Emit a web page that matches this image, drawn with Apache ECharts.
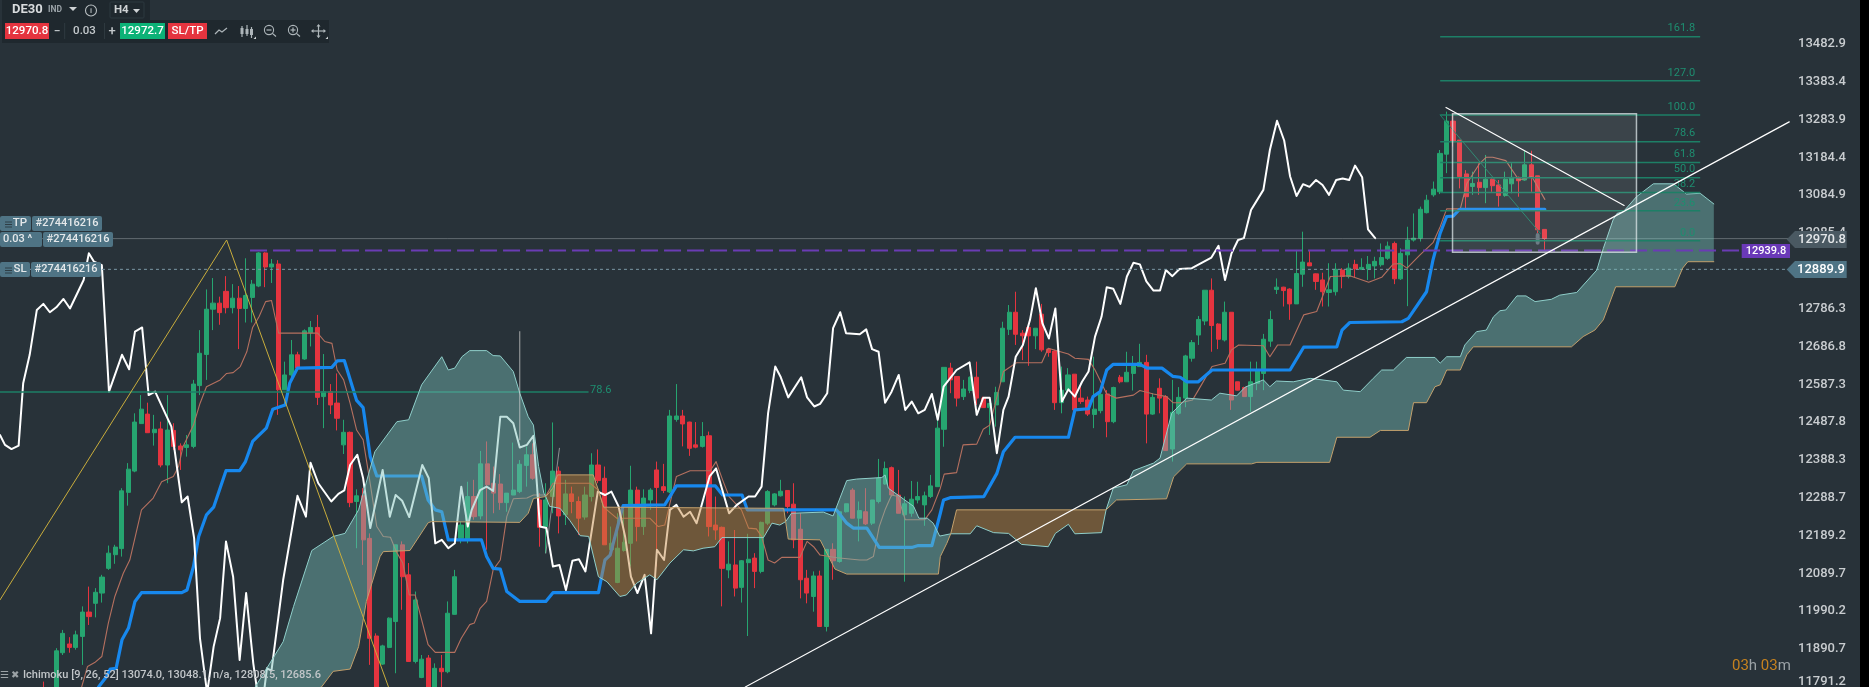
<!DOCTYPE html>
<html><head><meta charset="utf-8"><title>DE30 H4</title>
<style>html,body{margin:0;padding:0;background:#283239;overflow:hidden}#c{width:1869px;height:687px}</style>
<script src="https://cdn.jsdelivr.net/npm/echarts@6/dist/echarts.min.js"></script></head>
<body><div id="c"></div>
<script>
const firstBar = 6;
const opens = [11785,11770,11770,11881,11904,11895,11924,11988,12011,12038,
12103,12139,12155,12303,12359,12484,12509,12460,12470,12375,
12466,12425,12421,12424,12584,12666,12785,12801,12832,12789,
12814,12787,12816,12846,12933,12896,12904,12573,12612,12665,
12654,12723,12737,12555,12568,12538,12428,12461,12279,12294,
12182,11925,11851,11895,11963,12165,12086,11858,11816,11867,
11780,11840,11831,11982,12182,12178,12292,12241,12378,12327,
12325,12276,12296,12305,12374,12402,12283,12213,12292,12359,
12244,12299,12279,12238,12292,12375,12340,12152,12066,12150,
12169,12309,12213,12283,12362,12318,12304,12495,12504,12488,
12428,12424,12452,12217,12211,12099,12112,12053,12118,12130,
12095,12222,12270,12294,12308,12272,12206,12077,12029,12083,
11950,12153,12121,12252,12309,12235,12252,12222,12279,12325,
12368,12296,12244,12248,12283,12270,12292,12318,
12469,12630,12608,12555,12571,12606,12551,12526,12533,12594,
12732,12777,12722,12737,12715,12772,12680,12675,12539,12572,
12614,12551,12546,12508,12518,12562,12489,12606,12594,12616,
12634,12645,12509,12577,12555,12417,12511,12551,12656,12717,
12754,12835,12746,12704,12777,12594,12579,12555,12590,12616,
12701,12837,12843,12838,12799,12877,12907,12878,12862,12829,
12831,12888,12871,12903,12890,12891,12899,12902,12919,12958,
12865,12928,12967,12972,13039,13086,13094,13193,13280,13230,
13141,13108,13119,13105,13127,13112,13084,13115,13132,13125,
13165,13136,12995];
const closes = [11770,11760,11886,11932,11895,11928,11988,11976,12040,12080,
12143,12159,12307,12364,12488,12522,12460,12469,12375,12467,
12424,12415,12428,12588,12669,12785,12801,12776,12789,12814,
12787,12821,12851,12933,12896,12904,12573,12612,12665,12630,
12728,12737,12553,12568,12533,12498,12461,12276,12294,12178,
11919,11770,11899,11972,12165,12081,11858,12020,11864,11780,
11840,11831,11985,12081,12217,12292,12239,12378,12323,12301,
12276,12301,12309,12377,12402,12340,12211,12283,12359,12241,
12299,12279,12235,12296,12375,12334,12165,12169,12156,12172,
12309,12213,12288,12309,12316,12308,12504,12504,12483,12419,
12422,12450,12213,12204,12103,12114,12051,12123,12127,12095,
12224,12305,12299,12306,12266,12178,12073,12038,12083,11950,
12153,12123,12252,12273,12235,12255,12220,12283,12340,12366,
12296,12248,12273,12285,12292,12294,12320,12472,
12632,12599,12551,12575,12606,12551,12526,12537,12566,12735,
12777,12719,12715,12715,12735,12678,12671,12539,12572,12612,
12520,12542,12509,12522,12561,12489,12579,12594,12619,12636,
12645,12509,12553,12551,12413,12514,12553,12662,12697,12758,
12835,12742,12706,12777,12546,12572,12555,12594,12623,12706,
12758,12843,12834,12799,12879,12909,12899,12858,12831,12836,
12890,12871,12893,12891,12895,12903,12911,12921,12951,12865,
12932,12967,12972,13048,13072,13101,13195,13280,13226,13134,
13081,13116,13105,13127,13110,13084,13127,13132,13123,13165,
13132,12994,12971];
const lows = [11760,11750,11760,11875,11881,11889,11849,11954,11974,12013,
12099,12115,12134,12268,12356,12484,12460,12426,12369,12327,
12415,12362,12397,12419,12559,12599,12730,12744,12774,12774,
12680,12750,12750,12843,12843,12854,12507,12573,12603,12625,
12652,12687,12533,12472,12509,12466,12404,12264,12156,12112,
11849,11760,11849,11893,11827,11994,11858,11853,11814,11770,
11770,11780,11827,11981,12169,12169,12231,12232,12152,12248,
12257,12252,12296,12301,12318,12336,12160,12143,12248,12195,
12217,12248,12191,12231,12279,12327,12165,12143,12064,12147,
12108,12174,12191,12257,12108,12301,12301,12489,12424,12399,
12419,12421,12187,12178,12003,12077,12029,12013,11925,12051,
12090,12217,12266,12292,12248,12156,12024,12011,11989,11950,
11937,12073,12118,12250,12235,12174,12217,12217,12274,12323,
12292,12248,12068,12239,12274,12215,12288,12318,
12423,12564,12529,12546,12564,12533,12526,12454,12476,12594,
12717,12691,12651,12636,12680,12673,12660,12520,12511,12572,
12515,12536,12504,12472,12511,12448,12485,12590,12594,12571,
12634,12432,12507,12511,12413,12384,12507,12527,12647,12691,
12743,12673,12680,12700,12520,12571,12555,12515,12572,12572,
12686,12825,12792,12757,12799,12844,12899,12836,12792,12792,
12821,12840,12866,12869,12888,12862,12866,12897,12915,12851,
12862,12793,12963,12963,13037,13081,13088,13143,13213,13103,
13051,13086,13086,13064,13094,13055,13081,13090,13081,13123,
13094,12985,12941];
const highs = [11805,11785,11893,11941,11922,11939,12003,12055,12051,12086,
12163,12165,12314,12380,12511,12559,12539,12507,12489,12559,
12485,12432,12454,12599,12730,12837,12867,12818,12872,12851,
12846,12919,12862,12935,12935,12917,12914,12647,12704,12673,
12732,12754,12770,12667,12588,12616,12494,12463,12311,12314,
12195,11932,11902,11974,12165,12174,12117,12042,11875,11875,
11853,11875,12016,12099,12226,12331,12336,12412,12437,12371,
12351,12301,12434,12388,12424,12432,12301,12327,12487,12371,
12336,12318,12292,12318,12406,12416,12371,12213,12248,12257,
12373,12318,12311,12314,12384,12378,12520,12588,12520,12489,
12488,12488,12463,12292,12213,12174,12204,12125,12194,12143,
12226,12309,12301,12336,12309,12327,12248,12099,12095,12097,
12153,12169,12252,12273,12314,12279,12314,12283,12391,12384,
12371,12362,12292,12333,12331,12305,12349,12511,
12632,12644,12608,12599,12608,12647,12555,12537,12581,12752,
12796,12831,12730,12739,12735,12799,12682,12678,12634,12630,
12614,12590,12555,12660,12572,12572,12581,12612,12673,12662,
12694,12665,12564,12603,12559,12599,12580,12665,12704,12767,
12835,12866,12748,12805,12777,12594,12581,12647,12647,12720,
12781,12866,12844,12840,12941,12989,12941,12879,12881,12906,
12906,12893,12906,12915,12919,12925,12923,12958,12963,12963,
12945,13002,13037,13055,13086,13121,13204,13305,13300,13230,
13151,13147,13169,13191,13129,13125,13147,13169,13134,13202,
13202,13136,12995];

const kijun = [[14.5,11791],[15.7,11818],[16.3,11838],[17.2,11840],[18.1,11915],[19.1,11946],[20.1,12016],[21.1,12039],[27.3,12039],[28.1,12046],[29.1,12108],[29.9,12187],[31.1,12244],[32.2,12264],[34.1,12360],[36.2,12360],[37.1,12384],[38.2,12437],[40.3,12472],[41.3,12522],[43.2,12533],[43.9,12590],[45.1,12630],[50.4,12632],[51.2,12649],[52.3,12650],[54.2,12545],[55.2,12526],[56.3,12397],[57.3,12346],[64.2,12346],[65.2,12283],[66.3,12257],[67.3,12252],[68.3,12178],[73.4,12178],[74.2,12134],[75.2,12103],[76.3,12101],[77.3,12042],[79.3,12016],[83.3,12016],[84.4,12039],[91.4,12039],[92.4,12125],[93.2,12138],[95.2,12268],[101.6,12270],[103.4,12320],[109.4,12320],[110.5,12296],[113.5,12296],[114.3,12257],[128,12257],[129.6,12222],[130.6,12209],[132.7,12209],[134.6,12158],[139.6,12158],[140.6,12163],[142.7,12163],[144,12248],[144.5,12283],[145.5,12289],[150.7,12292],[152.7,12353],[153.7,12410],[155.5,12448],[163.7,12448],[164.7,12520],[166.8,12523],[167.5,12555],[168.6,12568],[169.6,12625],[170.6,12640],[174.7,12640],[175.8,12630],[178.1,12630],[179.8,12608],[180.9,12606],[181.9,12594],[183.7,12594],[185.8,12625],[197.8,12625],[199.9,12685],[205,12686],[205.8,12730],[207,12750],[215,12752],[216,12761],[218.8,12831],[219.8,12915],[220.9,12985],[221.9,13029],[222.9,13030],[223.9,13048],[237,13048.1]];
const tenkan = [[11.9,11791],[12.8,11845],[13.9,11855],[15,11871],[16,11959],[17,12029],[18.3,12090],[19.3,12125],[21.1,12257],[22.9,12288],[24.2,12331],[26,12345],[26.8,12371],[27.5,12424],[29.1,12480],[30.1,12537],[31.1,12581],[33.2,12599],[34.2,12616],[35.2,12618],[36.3,12634],[37.3,12673],[38.2,12737],[39.2,12766],[40.2,12805],[41.1,12808],[42.2,12722],[48.2,12722],[49.3,12700],[50.4,12695],[51.2,12625],[52.2,12599],[53.2,12537],[54.2,12467],[55.2,12441],[56.2,12336],[57.3,12213],[58.3,12187],[59.4,12185],[60.3,12147],[61.3,12117],[62.3,12033],[63.2,12033],[65.2,11902],[66.3,11882],[69.3,11882],[70.3,11919],[71.6,11955],[72.3,11959],[73.2,11998],[74.2,12016],[75.2,12099],[76.3,12125],[77.3,12239],[78.3,12286],[80.4,12288],[81.4,12296],[83.4,12296],[84.4,12327],[90.1,12327],[91.4,12309],[92.2,12264],[94.2,12235],[99.3,12235],[100.6,12213],[101.6,12217],[103.4,12345],[105.5,12360],[108.6,12360],[109.5,12384],[110.5,12336],[111.5,12292],[113.4,12257],[114.5,12209],[115.7,12207],[116.5,12187],[117.5,12125],[118.5,12117],[119.6,12132],[122.4,12132],[123.5,12174],[124.5,12160],[125.5,12138],[128.1,12131],[131.6,12125],[132.7,12125],[133.7,12134],[134.6,12213],[135.5,12257],[136.5,12296],[137.5,12292],[138.6,12231],[141.6,12231],[142.7,12257],[144,12314],[144.6,12351],[146.5,12355],[147.5,12428],[149.6,12430],[150.6,12469],[151.6,12480],[153.7,12621],[155.7,12644],[159.6,12644],[160.6,12682],[163.7,12667],[164.7,12656],[166.8,12653],[167.8,12625],[169.6,12562],[171.1,12551],[173.7,12559],[174.7,12571],[176.8,12562],[178.8,12555],[179.8,12539],[180.9,12539],[182.8,12546],[183.7,12572],[185.8,12634],[187.8,12643],[188.8,12678],[189.9,12691],[193.7,12689],[194.7,12660],[195.9,12691],[197.8,12691],[199.9,12770],[201.9,12779],[204,12871],[207,12873],[209.9,12856],[211.9,12869],[213.7,12904],[214.8,12905],[215.8,12893],[217.8,12928],[219.8,12960],[220.9,13002],[221.9,13049],[224,13049],[225,13116],[227,13169],[228,13185],[229,13185],[231,13176],[233,13125],[235,13134],[237,13074]];
const chikou = [[-0.67,12454],[0.1,12428],[1.1,12417],[2.2,12426],[2.9,12590],[3.9,12665],[5,12783],[6,12799],[7,12777],[8,12790],[9.1,12812],[10.1,12787],[12.2,12862],[13,12932],[13.8,12910],[15,12901],[16.1,12568],[18.1,12665],[19.2,12627],[20.1,12726],[21.2,12737],[22.2,12559],[23.2,12568],[25.7,12476],[27.3,12277],[28.2,12292],[29.2,12182],[30.1,11919],[31.2,11775],[32.2,11897],[33.2,11972],[34.1,12174],[35.2,12081],[36.2,11862],[37.2,12038],[38.3,11853],[39.1,11757],[39.8,11757],[40.4,11840],[41.1,11834],[42.9,12073],[44.4,12222],[45.1,12294],[46.4,12239],[47.1,12381],[48.3,12327],[50.3,12279],[51.4,12299],[52.3,12308],[53.2,12375],[54.3,12402],[55.2,12340],[56.3,12209],[58.2,12362],[59.3,12239],[60.2,12296],[61.2,12281],[62.3,12238],[64.3,12375],[65.3,12340],[66.3,12169],[67.3,12178],[68.3,12156],[69.3,12169],[70.3,12318],[71.3,12213],[71.9,12257],[73.2,12309],[74.2,12318],[75.2,12307],[76.3,12502],[77.3,12502],[78.3,12485],[79.3,12421],[80.4,12428],[81.4,12452],[82.4,12213],[83.4,12209],[84.4,12108],[85.4,12112],[86.4,12046],[87.4,12123],[88.4,12127],[89.4,12095],[91.3,12305],[92.4,12296],[93.4,12305],[94.5,12266],[95.5,12187],[96.4,12081],[97.4,12038],[98.5,12086],[99.5,11932],[100.4,12152],[101.5,12125],[102.4,12257],[103.4,12270],[104.5,12239],[105.5,12252],[106.5,12222],[108.5,12345],[109.5,12366],[111.5,12248],[112.7,12270],[114.5,12292],[115.5,12292],[116.5,12318],[117.5,12511],[118.6,12634],[119.4,12608],[120.6,12553],[122.6,12606],[123.5,12553],[124.6,12529],[125.5,12536],[126.6,12564],[127.5,12735],[128.6,12777],[129.5,12722],[131.6,12719],[132.6,12732],[133.5,12680],[134.5,12673],[135.5,12539],[136.5,12568],[137.6,12612],[138.6,12520],[139.6,12542],[140.6,12511],[141.6,12520],[142.7,12562],[143.6,12494],[144.5,12581],[146.5,12625],[148.5,12645],[149.6,12507],[150.6,12552],[151.6,12552],[152.7,12406],[153.7,12520],[154.5,12555],[155.6,12660],[156.7,12691],[157.8,12757],[158.7,12840],[159.7,12748],[160.7,12708],[161.7,12787],[162.7,12542],[163.7,12574],[164.7,12555],[165.8,12594],[166.8,12621],[167.8,12713],[168.8,12765],[169.6,12843],[170.6,12839],[171.7,12799],[172.7,12871],[173.7,12907],[174.7,12903],[175.7,12858],[176.8,12834],[177.8,12834],[178.7,12888],[179.7,12872],[180.8,12891],[182.7,12893],[185.7,12921],[186.8,12952],[187.8,12862],[188.8,12932],[189.8,12967],[190.7,12972],[191.8,13046],[193.7,13099],[194.7,13204],[195.8,13281],[196.9,13229],[197.8,13135],[198.8,13083],[199.8,13114],[200.8,13107],[201.8,13125],[202.8,13112],[203.8,13086],[204.9,13125],[205.9,13129],[206.9,13125],[207.8,13163],[208.9,13132],[209.8,12995],[210.9,12972]];
const spanA = [[37,11700],[38.6,11791],[42.9,11910],[44.5,12003],[47.3,12150],[50.6,12187],[52.4,12195],[54.5,12257],[57,12410],[60.4,12489],[62.2,12494],[64.2,12586],[67.3,12660],[68.3,12625],[69.3,12630],[70.4,12660],[71.6,12676],[74.2,12676],[75.2,12663],[76.3,12662],[78.3,12621],[79.3,12564],[80.6,12502],[81.4,12480],[81.6,12450],[82.2,12371],[83,12301],[83.3,12292],[83.9,12266],[85.5,12261],[87,12229],[88.6,12189],[89.9,12187],[91.4,12081],[92.7,12068],[94.7,12029],[95.7,12033],[97.3,12064],[99.3,12086],[100.4,12073],[102.4,12117],[104.5,12152],[106,12149],[107.5,12156],[109.3,12160],[110.4,12184],[116.8,12184],[118.1,12222],[119.3,12217],[120.2,12226],[121.1,12248],[126,12251],[127.5,12241],[129.6,12334],[131.1,12338],[135,12342],[135.5,12349],[136,12314],[137.8,12292],[139.9,12266],[140.7,12235],[142,12235],[142.9,12222],[143.9,12188],[145.6,12194],[148.6,12194],[149.6,12215],[152.2,12197],[154.5,12195],[156.5,12166],[160.6,12160],[161.7,12195],[163.7,12219],[164.7,12194],[168.8,12197],[169.5,12257],[170.6,12314],[172.7,12323],[173.7,12360],[176.8,12380],[177.8,12393],[179.6,12511],[181.9,12551],[185.7,12546],[187,12564],[189.6,12557],[190.9,12580],[193.7,12599],[194.7,12581],[195.7,12596],[198.3,12594],[200.9,12603],[205,12594],[206,12572],[208.6,12568],[210.6,12603],[211.9,12625],[213.7,12625],[215.7,12658],[220.1,12658],[220.9,12643],[221.9,12660],[224,12660],[224.7,12691],[226.5,12726],[228,12730],[229.1,12765],[230.1,12781],[231,12783],[232.7,12820],[234.1,12820],[235.5,12805],[238,12811],[239.3,12822],[241.9,12829],[245,12888],[246,12945],[247.5,13020],[248.1,13037],[249.1,13042],[251.1,13081],[253.7,13115],[256.8,13115],[258.8,13088],[260.9,13090],[263,13062]];
const spanB = [[37,11700],[48.8,11791],[50.6,11832],[53.2,11838],[54.5,11897],[55.7,12016],[57.8,12134],[58.3,12147],[62.4,12150],[65.2,12223],[65.7,12226],[79.3,12224],[80.6,12248],[81.4,12287],[83.3,12292],[84.4,12314],[85.1,12349],[90.6,12349],[91.4,12309],[92.2,12264],[119.9,12261],[120.2,12226],[120.6,12180],[125.5,12178],[127.8,12101],[129.6,12088],[143.7,12088],[144,12134],[145,12169],[145.6,12194],[146.5,12257],[169.5,12257],[171.1,12283],[178.8,12286],[179.9,12344],[181.9,12378],[191.9,12378],[192.7,12382],[203.9,12382],[205,12448],[210.1,12448],[211.7,12466],[216,12466],[216.8,12539],[218.8,12539],[220.1,12581],[220.9,12586],[221.9,12625],[224,12625],[225,12665],[226,12686],[241.1,12686],[242.9,12713],[244.7,12730],[246,12757],[247.9,12844],[257,12844],[258.2,12893],[259,12910],[263,12910]];
const cloudRegions = [[37,83.3,'up'],[83.3,120.2,'down'],[120.2,145.6,'up'],[145.6,169.5,'down'],[169.5,263,'up']];

const priceTicks = [13482.9,13383.4,13283.9,13184.4,13084.9,12985.4,12786.3,12686.8,12587.3,12487.8,12388.3,12288.7,12189.2,12089.7,11990.2,11890.7];
const bottomTickLabel = '11791.2';
const fibNames  = ['161.8','127.0','100.0','78.6','61.8','50.0','38.2','23.6','0.0'];
const fibPrices = [13502,13386,13296,13226,13171,13131,13092,13044,12965];
const fibStart = 220.9, fibEnd = 260.9;
const oldFib = [[-0.67,12567],[89.8,12567]];
const fibDiagonal = [[220.9,13296],[236.3,12985]];
const yellowLeg = [[-0.67,12020],[34.2,12967],[59.1,11791]];
const whiteFall = [[221.8,13316],[249.2,13058]];
const whiteRise = [[114,11791],[274.6,13278]];
const greyStick = [[79.3,12726],[79.3,12441]];
const greySlant = [[85.4,12419],[83.3,12143]];
const greyMark = [[235.9,12980],[235.9,12960]];
const boxCorners = [222.8,13299.5,251.1,12934.7];
const bidPrice = 12970.8, slPrice = 12889.9, pendingPrice = 12939.8;
const legendText = 'Ichimoku [9, 26, 52] 13074.0, 13048.1, n/a, 12808.5, 12685.6';

const BG='#283239', GREEN='#26a570', RED='#e5343f', FIB='#1d7f66', LABEL='#c9cdd0', TAG='#4f7485', FONT='Roboto';
const barPos = k => 8 + (k-8)*19.58/19.5;
const candles = opens.map((o,j)=>[barPos(firstBar+j),o,closes[j],lows[j],highs[j]]);

function line(data,color,width,z,extra){
  return Object.assign({type:'line',xAxisIndex:0,yAxisIndex:0,data,symbol:'none',z,silent:true,clip:true,animation:false,
    lineStyle:{color,width,join:'round',cap:'round'}},extra||{});
}
function tx(x,y,text,opt){ opt=opt||{};
  return {type:'text',z:opt.z||200,x,y,style:{text,fill:opt.fill||'#fff',font:(opt.weight||'500')+' '+(opt.size||12)+'px '+FONT,align:opt.align||'left',verticalAlign:'middle'}};
}
function rc(x,y,w,h,fill,r,z){return {type:'rect',z:z||190,shape:{x,y,width:w,height:h,r:r||0},style:{fill}}}
function ln(pts,stroke,w){return {type:'polyline',z:200,shape:{points:pts},style:{stroke,lineWidth:w||1.2,fill:'none'}}}
function circ(cx,cy,r,stroke){return {type:'circle',z:200,shape:{cx,cy,r},style:{stroke,lineWidth:1.1,fill:'none'}}}
function tri(pts,fill){return {type:'polygon',z:200,shape:{points:pts},style:{fill}}}
const IC='#aeb6ba';
const chrome=[
  rc(1860,0,9,687,'#000',0,300),
  rc(2,0,148,20,'#1f282e'),
  rc(2,20,327,23,'#1f282e'),
  tx(12,10,'DE30',{size:13,weight:'700',fill:'#d8dbdd'}),
  tx(48,10,'IND',{size:8.5,weight:'700',fill:'#9aa2a7'}),
  tri([[69,7],[77,7],[73,11]],'#cfd3d5'),
  circ(91,10.5,5.5,'#b9bfc2'),
  tx(91,10.5,'i',{size:8,weight:'500',align:'center',fill:'#b9bfc2'}),
  {type:'rect',z:195,shape:{x:110,y:2,width:34,height:16,r:1},style:{fill:'none',stroke:'#2d383f'}},
  tx(114,10.5,'H4',{size:11.5,weight:'700',fill:'#cfd3d5'}),
  tri([[133,9],[140,9],[136.5,13]],'#cfd3d5'),
  rc(5,23,44,16,RED),
  tx(27,31,'12970.8',{size:11.5,align:'center'}),
  tx(57,31.5,'−',{size:12,align:'center',fill:'#c4c9cc'}),
  rc(64.5,23,.6,16,'#3a454c',0,195), rc(104,23,.6,16,'#3a454c',0,195),
  tx(84.5,31.5,'0.03',{size:11.5,align:'center',fill:'#c4c9cc'}),
  tx(112,31.5,'+',{size:13,align:'center',fill:'#c4c9cc'}),
  rc(120,23,45,16,'#0cb277'),
  tx(142.5,31,'12972.7',{size:11.5,align:'center'}),
  rc(168,23,39,16,RED),
  tx(187.5,31,'SL/TP',{size:11.5,align:'center'}),
  ln([[215,34],[219,30],[222,32],[227,28]],IC),
  ln([[242,26],[242,37]],IC),ln([[247,25],[247,36]],IC),ln([[251.5,27],[251.5,38]],IC),
  rc(240.5,28,3,6,IC,0,200),rc(245.5,29,3,5,IC,0,200),rc(250,29,3,6,IC,0,200),
  circ(269,30,4.6,IC),ln([[266.5,30],[271.5,30]],IC),ln([[272.4,33.4],[276,36.5]],IC),
  circ(293,30,4.6,IC),ln([[290.5,30],[295.5,30]],IC),ln([[293,27.5],[293,32.5]],IC),ln([[296.4,33.4],[300,36.5]],IC),
  ln([[318.5,25],[318.5,37.5]],IC),ln([[312,31],[325,31]],IC),
  tri([[318.5,24],[316.5,26.5],[320.5,26.5]],IC),tri([[318.5,38],[316.5,35.5],[320.5,35.5]],IC),tri([[311,31],[313.5,29],[313.5,33]],IC),tri([[326,31],[323.5,29],[323.5,33]],IC),
  tri([[256,39],[256,36.5],[253.5,39]],'#cfd3d5'),tri([[328,39],[328,36.5],[325.5,39]],'#cfd3d5'),
  rc(0,216,31,15,TAG,2), rc(32,216,70,15,TAG,2),
  ln([[5,222],[12,222]],'#2f3e46',1),ln([[5,224.5],[12,224.5]],'#2f3e46',1),ln([[5,227],[12,227]],'#2f3e46',1),
  tx(20,223.5,'TP',{size:11.5,align:'center',fill:'#e4e8ea'}),
  tx(67,223.5,'#274416216',{size:11,align:'center',fill:'#e4e8ea'}),
  rc(0,232,42,15,TAG,2), rc(43,232,70,15,TAG,2),
  tx(3,239.5,'0.03 ^',{size:11,fill:'#e4e8ea'}),
  tx(78,239.5,'#274416216',{size:11,align:'center',fill:'#e4e8ea'}),
  rc(0,262,30,15,TAG,2), rc(31,262,70,15,TAG,2),
  ln([[5,268],[12,268]],'#2f3e46',1),ln([[5,270.5],[12,270.5]],'#2f3e46',1),ln([[5,273],[12,273]],'#2f3e46',1),
  tx(20,269.5,'SL',{size:11.5,align:'center',fill:'#e4e8ea'}),
  tx(66,269.5,'#274416216',{size:11,align:'center',fill:'#e4e8ea'}),
  tri([[1786.7,239.5],[1795,231],[1846.7,231],[1846.7,248],[1795,248]],'#4a5962'),
  tx(1798,239.5,'12970.8',{size:13,fill:'#e4e7e9'}),
  tri([[1786.7,269.5],[1795,261],[1846.7,261],[1846.7,278],[1795,278]],TAG),
  tx(1797,269.5,'12889.9',{size:13,fill:'#fff'}),
  rc(1741.7,244,48.3,14,'#6a39b8'),
  tx(1766,251,'12939.8',{size:11,align:'center'}),
  tx(1798,681.7,bottomTickLabel,{size:13,fill:LABEL}),
  tx(0,675.7,'☰',{size:10,weight:'400',fill:'#9ba2a6'}),
  tx(11,675.7,'✖',{size:10,weight:'400',fill:'#9ba2a6'}),
  tx(23,675.7,legendText,{size:11,fill:'#c2c6c9',weight:'500'}),
  {type:'text',z:200,x:1732,y:666,style:{rich:{a:{fill:'#c6821f',font:'400 15px '+FONT},b:{fill:'#9aa1a5',font:'400 15px '+FONT}},text:'{a|03}{b|h }{a|03}{b|m}',verticalAlign:'middle'}}
];

const option={
  backgroundColor:BG,animation:false,tooltip:{show:false},
  grid:{left:0,top:0,width:1790,height:687,containLabel:false,outerBoundsMode:'none'},
  xAxis:{type:'value',min:-0.667,max:274.72,show:false,splitLine:{show:false}},
  yAxis:{type:'value',position:'right',min:11790.8,max:13598.7,
    axisLine:{show:false},axisTick:{show:false},splitLine:{show:false},
    axisLabel:{customValues:priceTicks,formatter:v=>v.toFixed(1),color:LABEL,fontFamily:FONT,fontSize:13,fontWeight:500,margin:8,align:'left'}},
  graphic:{elements:chrome},
  series:[
    {type:'candlestick',data:candles,encode:{x:0,y:[1,2,3,4]},barWidth:4.6,z:2,silent:true,clip:true,
      itemStyle:{color:GREEN,color0:RED,borderColor:GREEN,borderColor0:RED,borderWidth:1}},
    line(tenkan,'#b5705f',1.1,3),
    line(kijun,'#1788ee',3.2,4),
    line(chikou,'#ffffff',2,5),
    line(oldFib,FIB,1.5,6,{endLabel:{show:true,formatter:'78.6',position:'insideEndTop',color:'#1e8e70',fontFamily:FONT,fontSize:11,distance:4,offset:[-2,-2]}}),
    line([[-0.67,bidPrice],[274.72,bidPrice]],'rgba(190,198,202,0.38)',1,6),
    line([[-0.67,slPrice],[274.72,slPrice]],'#7b98a5',1,6,{lineStyle:{color:'#7b98a5',width:1,type:[3,3]}}),
    line(greyMark,'#5f6f78',4,7),
    {type:'custom',coordinateSystem:'cartesian2d',z:8,silent:true,clip:true,data:cloudRegions.map((r,i)=>[r[0],r[1],i]),encode:{x:[0,1],y:[]},
      renderItem(params,api){
        const r=cloudRegions[params.dataIndex];
        const inR=q=>q[0]>=r[0]&&q[0]<=r[1];
        const pts=spanA.filter(inR).concat(spanB.filter(inR).reverse()).map(q=>api.coord(q));
        return {type:'polygon',shape:{points:pts},style:{fill:r[2]==='up'?'rgba(118,188,182,0.45)':'rgba(196,134,60,0.45)'}};
      }},
    line(spanA,'#8fcfca',1,9),
    line(spanB,'#c3a06c',1,9),
    line([[37.8,pendingPrice],[267.3,pendingPrice]],'#6a3cb4',2,10,{lineStyle:{color:'#6a3cb4',width:2,type:[17,6]}}),
    {type:'custom',coordinateSystem:'cartesian2d',z:11,silent:true,clip:true,data:fibPrices.map((p,i)=>[fibStart,p,i]),encode:{x:0,y:1},
      renderItem(params,api){
        const i=params.dataIndex,a=api.coord([fibStart,fibPrices[i]]),b=api.coord([fibEnd,fibPrices[i]]);
        return {type:'group',children:[
          {type:'line',shape:{x1:a[0],y1:a[1],x2:b[0],y2:b[1]},style:{stroke:FIB,lineWidth:1.5}},
          {type:'text',style:{text:fibNames[i],x:b[0]-5,y:b[1]-8,fill:'#1e8e70',font:'400 11px '+FONT,align:'right',verticalAlign:'middle'}}
        ]};
      }},
    line(fibDiagonal,FIB,1,11),
    {type:'custom',coordinateSystem:'cartesian2d',z:12,silent:true,clip:true,data:[boxCorners],encode:{x:[0,2],y:[1,3]},
      renderItem(params,api){
        const a=api.coord([boxCorners[0],boxCorners[1]]),b=api.coord([boxCorners[2],boxCorners[3]]);
        return {type:'rect',shape:{x:a[0],y:a[1],width:b[0]-a[0],height:b[1]-a[1]},style:{fill:'rgba(255,255,255,0.09)',stroke:'rgba(220,230,232,0.75)',lineWidth:1.5}};
      }},
    line(yellowLeg,'#c9ad3c',1,13),
    line(whiteFall,'#ffffff',1.2,13),
    line(whiteRise,'#ffffff',1.2,13),
    line(greyStick,'rgba(205,205,205,0.75)',1,13),
    line(greySlant,'rgba(205,205,205,0.6)',1,13)
  ]
};
const chart=echarts.init(document.getElementById('c'),null,{renderer:'canvas',width:1869,height:687});
chart.setOption(option);
</script></body></html>
